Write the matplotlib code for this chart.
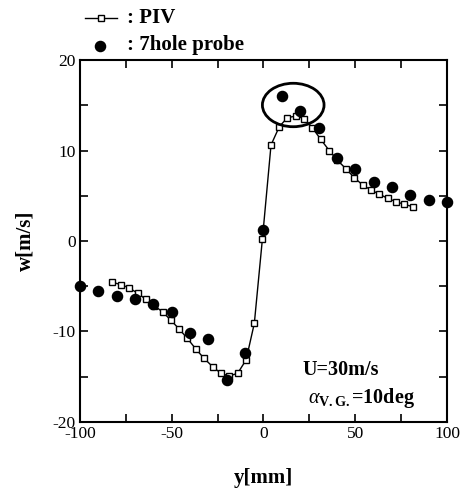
import matplotlib
matplotlib.use("Agg")
import matplotlib.pyplot as plt
from matplotlib.patches import Ellipse
from matplotlib.ticker import MultipleLocator, FuncFormatter

# PIV data
piv_y = [-82.4, -77.7, -73.1, -68.6, -64.0, -59.5, -54.9, -50.4, -46.0, -41.5, -36.9,
         -32.4, -27.7, -23.2, -18.7, -14.1, -9.5, -5.0,
         -0.6, 4.1, 8.6, 13.0, 17.7, 22.3, 26.6, 31.2, 35.9, 40.2, 45.0, 49.5,
         54.0, 58.6, 63.2, 67.7, 72.2, 76.7, 81.3]
piv_w = [-4.56, -4.82, -5.19, -5.78, -6.45, -7.15, -7.85, -8.77, -9.72, -10.76, -11.93,
         -12.97, -13.89, -14.62, -14.92, -14.62, -13.15, -9.1,
         0.22, 10.61, 12.63, 13.63, 13.81, 13.52, 12.52, 11.23, 9.98, 8.95, 7.96, 7.0,
         6.19, 5.64, 5.16, 4.72, 4.34, 4.06, 3.79]

# 7-hole probe data
probe_y = [-100, -90, -80, -70, -60, -50, -40, -30, -20, -10,
           0, 10, 20, 30, 40, 50, 60, 70, 80, 90, 100]
probe_w = [-4.97, -5.49, -6.04, -6.38, -6.96, -7.81, -10.13, -10.8, -15.36, -12.41,
           1.22, 16.02, 14.36, 12.52, 9.14, 7.96, 6.55, 6.0, 5.08, 4.53, 4.28]

plt.rcParams['font.family'] = ['Liberation Serif', 'DejaVu Serif']
plt.rcParams['mathtext.fontset'] = 'custom'
plt.rcParams['mathtext.rm'] = 'Liberation Serif:bold'
plt.rcParams['mathtext.it'] = 'Liberation Serif:italic'
plt.rcParams['mathtext.bf'] = 'Liberation Serif:bold'

fig = plt.figure(figsize=(4.66, 4.92), dpi=100)
ax = fig.add_axes([0.1717, 0.1423, 0.9592 - 0.1717, 0.878 - 0.1423])

ax.plot(piv_y, piv_w, '-', color='black', lw=1.0, marker='s', ms=4.5,
        mfc='white', mec='black', mew=1.0, zorder=2)
ax.plot(probe_y, probe_w, 'o', color='black', ms=7.3, zorder=3, clip_on=False)

ax.add_patch(Ellipse((16.2, 15.03), 33.6, 4.8, fill=False, lw=2.0, ec='black', zorder=4))

ax.set_xlim(-100, 100)
ax.set_ylim(-20, 20)
ax.xaxis.set_major_locator(MultipleLocator(25))
ax.yaxis.set_major_locator(MultipleLocator(5))
ax.xaxis.set_major_formatter(FuncFormatter(lambda v, p: f"{int(round(v))}" if round(v) % 50 == 0 else ""))
ax.yaxis.set_major_formatter(FuncFormatter(lambda v, p: f"{int(round(v))}" if round(v) % 10 == 0 else ""))
ax.tick_params(direction='in', length=6, width=1.2, top=True, right=True,
               labelsize=12.5, pad=3)
for s in ax.spines.values():
    s.set_linewidth(1.5)

fig.text(0.054, 0.51, 'w[m/s]', rotation=90, ha='center', va='center',
         fontsize=15, fontweight='bold')
fig.text(0.565, 0.028, 'y[mm]', ha='center', va='center',
         fontsize=15, fontweight='bold')

ax.text(0.605, 0.145, 'U=30m/s', transform=ax.transAxes, fontsize=14.5,
        fontweight='bold', ha='left', va='center')
ax.text(0.62, 0.065, r'$\alpha_{\rm V.G.}$=10deg', transform=ax.transAxes,
        fontsize=14.5, fontweight='bold', ha='left', va='center')

# legend
fig.lines.append(plt.Line2D([85/466, 117/466], [1 - 18/492, 1 - 18/492],
                            transform=fig.transFigure, color='black', lw=1.0,
                            figure=fig))
fig.lines.append(plt.Line2D([101/466], [1 - 18/492], transform=fig.transFigure,
                            marker='s', ms=5, mfc='white', mec='black', mew=1.0,
                            color='black', figure=fig))
fig.lines.append(plt.Line2D([100/466], [1 - 46/492], transform=fig.transFigure,
                            marker='o', ms=7.3, color='black', figure=fig))
fig.text(127/466, 1 - 18/492, ': PIV', ha='left', va='center', fontsize=15,
         fontweight='bold')
fig.text(127/466, 1 - 45/492, ': 7hole probe', ha='left', va='center', fontsize=15,
         fontweight='bold')

fig.savefig('out.png', dpi=100)
